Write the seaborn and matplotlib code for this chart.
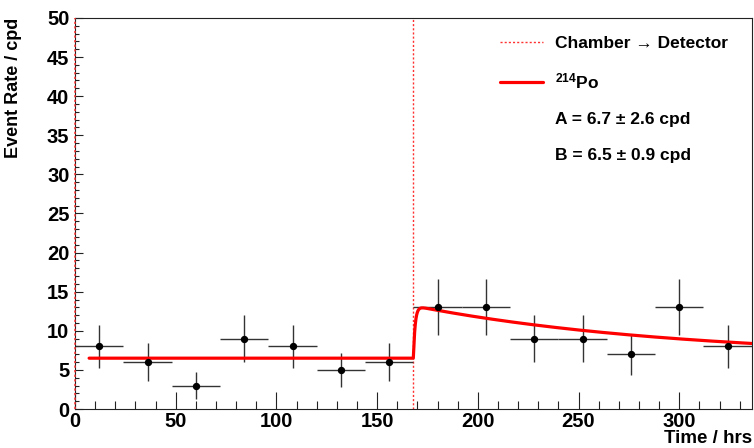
import numpy as np
import pandas as pd
import matplotlib
matplotlib.use("Agg")
import matplotlib.pyplot as plt
import seaborn as sns
from matplotlib.lines import Line2D

# Data (24 h bins)
bin_centers = [12, 36, 60, 84, 108, 132, 156, 180, 204, 228, 252, 276, 300, 324]
bin_halfwidth = [12] * 14
rates = [8, 6, 3, 9, 8, 5, 6, 13, 13, 9, 9, 7, 13, 8]
rate_errs = [2.8, 2.4, 1.7, 3.0, 2.8, 2.2, 2.4, 3.6, 3.6, 3.0, 3.0, 2.6, 3.6, 2.8]

# Fit parameters (from the legend) and transfer time
fit_A = 6.7
fit_B = 6.5
t_transfer = 168
rn_halflife_hrs = 91.7  # 222Rn
fit_start, fit_end = 7, 336

df = pd.DataFrame({"Time": bin_centers, "Rate": rates})

# Fit model: flat background, then radon ingrowth decaying after the move
t = np.linspace(fit_start, fit_end, 2000)
tau = rn_halflife_hrs / np.log(2)
dt = np.clip(t - t_transfer, 0, None)
model = fit_B + np.where(t >= t_transfer,
                         fit_A * (1 - np.exp(-dt / 0.9)) * np.exp(-dt / tau), 0)
fit_df = pd.DataFrame({"Time": t, "Rate": model})

sns.set_style("ticks", {"text.color": "black", "axes.labelcolor": "black",
                        "xtick.color": "black", "ytick.color": "black",
                        "axes.edgecolor": "black"})
plt.rcParams['font.family'] = ['Liberation Sans', 'DejaVu Sans']
plt.rcParams['font.weight'] = 'bold'
plt.rcParams['mathtext.fontset'] = 'custom'
plt.rcParams['mathtext.rm'] = 'Liberation Sans:bold'
plt.rcParams['mathtext.bf'] = 'Liberation Sans:bold'
plt.rcParams['mathtext.default'] = 'bf'

fig = plt.figure(figsize=(7.54, 4.48), dpi=100)
ax = fig.add_axes([0.0995, 0.087, 0.8975, 0.873])

# error bars
ax.errorbar(bin_centers, rates, xerr=bin_halfwidth, yerr=rate_errs, fmt='none',
            ecolor='#333333', elinewidth=1.0, capsize=0, zorder=2)
sns.scatterplot(data=df, x="Time", y="Rate", color='black', s=28,
                edgecolor='black', linewidth=0, ax=ax, zorder=4)

# fit curve
sns.lineplot(data=fit_df, x="Time", y="Rate", color='#ff0000', linewidth=2.3,
             ax=ax, zorder=3)

# transfer markers
dotted = (0, (1.5, 1.5))
ax.axvline(t_transfer, color='#ff3030', linestyle=dotted, linewidth=1.0, zorder=1)
ax.axvline(0, color='#ff3030', linestyle=dotted, linewidth=1.1, zorder=5,
           clip_on=False)

ax.set_xlim(0, 336)
ax.set_ylim(0, 50)
ax.set_xticks(np.arange(0, 301, 50))
ax.set_xticks(np.arange(0, 337, 10), minor=True)
ax.set_yticks(np.arange(0, 51, 5))
ax.set_yticks(np.arange(0, 51, 1), minor=True)
ax.tick_params(axis='both', which='both', direction='in', top=False, right=False,
               labelsize=14.5, width=0.8, color='#222222')
ax.tick_params(axis='x', which='major', length=12, pad=2)
ax.tick_params(axis='x', which='minor', length=6)
ax.tick_params(axis='y', which='major', length=6, pad=4)
ax.tick_params(axis='y', which='minor', length=3)
for lbl in ax.get_xticklabels() + ax.get_yticklabels():
    lbl.set_fontweight('bold')
for sp in ax.spines.values():
    sp.set_linewidth(0.8)
    sp.set_color('#222222')

ax.set_xlabel("")
ax.set_ylabel("")
fig.text(0.998, 0.002, "Time / hrs", ha='right', va='bottom', fontsize=13.5,
         fontweight='bold')
fig.text(0.018, 0.96, "Event Rate / cpd", rotation=90, ha='center', va='top',
         fontsize=13, fontweight='bold')

# legend
handles = [
    Line2D([], [], color='#ff3030', linestyle=dotted, linewidth=1.0),
    Line2D([], [], color='#ff0000', linewidth=2.3),
    Line2D([], [], color='none'),
    Line2D([], [], color='none'),
]
labels = ["Chamber \u2192 Detector", r"$^{214}$Po",
          "A = 6.7 \u00b1 2.6 cpd", "B = 6.5 \u00b1 0.9 cpd"]
leg = ax.legend(handles, labels, loc='upper left', bbox_to_anchor=(0.605, 0.995),
                frameon=False, fontsize=12.5, handlelength=2.5, handletextpad=0.65,
                labelspacing=1.2)
for txt in leg.get_texts():
    txt.set_fontweight('bold')

fig.savefig("out.png", dpi=100)
